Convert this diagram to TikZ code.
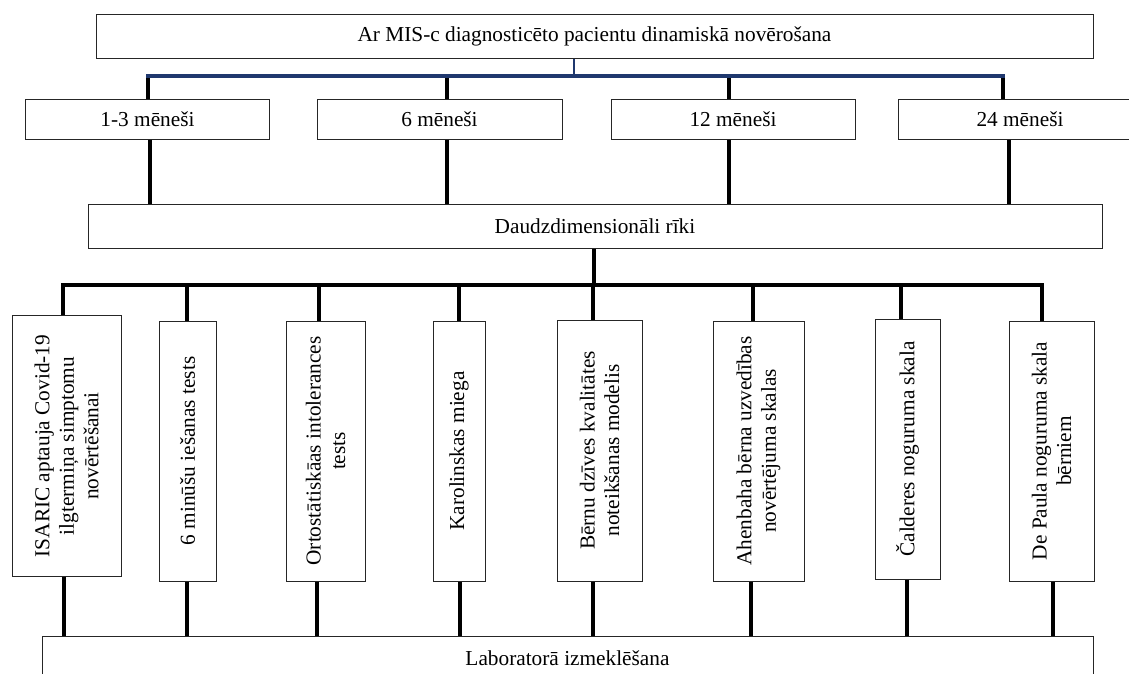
\documentclass[tikz,border=0pt]{standalone}
\usepackage{fontspec}
\setmainfont{Liberation Serif}
\definecolor{navy}{RGB}{31,56,110}
\tikzset{
    box/.style={rectangle,draw=black!85,line width=1pt, inner sep=0, font=\fontsize{21.3}{24.5}\selectfont},
    wide/.style={box, minimum height=44pt},
    month/.style={box, minimum width=244pt, minimum height=40pt},
    tool/.style={box, rotate=90, minimum width=260pt, align=center},
    link/.style={line width=4pt},
    navylink/.style={draw=navy, line width=4pt, line cap=rect}
}

\begin{document}
\begin{tikzpicture}[x=1pt,y=-1pt]
    \useasboundingbox (0,0) rectangle (1129,673);
    \clip (0,0) rectangle (1129,673);

    \node[wide, minimum width=997pt] (top) at (594.5,36) {Ar MIS-c diagnosticēto pacientu dinamiskā novērošana};
    \node[month] (m1) at (147.5,119) {1-3 mēneši};
    \node[month, minimum width=245pt] (m2) at (439.5,119) {6 mēneši};
    \node[month] (m3) at (733,119) {12 mēneši};
    \node[month] (m4) at (1020,119) {24 mēneši};
    \node[wide, minimum width=1014pt] (dd) at (595,226) {Daudzdimensionāli rīki};

    \node[tool, minimum height=109pt, minimum width=261pt] (t1) at (66.5,446) {ISARIC aptauja Covid-19\\ ilgtermiņa simptomu\\ novērtēšanai};
    \node[tool, minimum height=57pt] (t2) at (187.5,451) {6 minūšu iešanas tests};
    \node[tool, minimum height=79pt] (t3) at (325.5,451) {Ortostātiskāas intolerances\\ tests};
    \node[tool, minimum height=52pt] (t4) at (459,451) {Karolinskas miega};
    \node[tool, minimum height=85pt, minimum width=261pt] (t5) at (599.5,450.5) {Bērnu dzīves kvalitātes\\ noteikšanas modelis};
    \node[tool, minimum height=91pt] (t6) at (758.5,451) {Ahenbaha bērna uzvedības\\ novērtējuma skalas};
    \node[tool, minimum height=65pt] (t7) at (907.5,449) {Čalderes noguruma skala};
    \node[tool, minimum height=85pt] (t8) at (1051.5,451) {De Paula noguruma skala\\ bērniem};

    \node[wide, minimum width=1051pt] (lab) at (567.5,658) {Laboratorā izmeklēšana};

    % months
    \coordinate (hub) at (574,76);
    \coordinate (a1) at (148,76);
    \coordinate (a2) at (447,76);
    \coordinate (a3) at (729,76);
    \coordinate (a4) at (1003,76);
    \draw[navy, line width=2.5pt] (top.south -| hub) -- (hub);
    \draw[link] (a1) -- (a1 |- m1.north);
    \draw[link] (a2) -- (a2 |- m2.north);
    \draw[link] (a3) -- (a3 |- m3.north);
    \draw[link] (a4) -- (a4 |- m4.north);
    \draw[navylink] (a1) -- (a4);

    \coordinate (c1) at (150,0);
    \coordinate (c2) at (447,0);
    \coordinate (c3) at (729,0);
    \coordinate (c4) at (1009,0);
    \draw[link] (m1.south -| c1) -- (dd.north -| c1);
    \draw[link] (m2.south -| c2) -- (dd.north -| c2);
    \draw[link] (m3.south -| c3) -- (dd.north -| c3);
    \draw[link] (m4.south -| c4) -- (dd.north -| c4);

    % tools
    \coordinate (hub2) at (594,285);
    \coordinate (d1) at (63,285);
    \coordinate (d2) at (187,285);
    \coordinate (d3) at (319,285);
    \coordinate (d4) at (459,285);
    \coordinate (d5) at (593,285);
    \coordinate (d6) at (753,285);
    \coordinate (d7) at (901,285);
    \coordinate (d8) at (1042,285);
    \draw[link] (dd.south -| hub2) -- (hub2);
    \draw[link, line cap=rect] (d1) -- (d8);
    \draw[link] (d1) -- (d1 |- t1.east);
    \draw[link] (d2) -- (d2 |- t2.east);
    \draw[link] (d3) -- (d3 |- t3.east);
    \draw[link] (d4) -- (d4 |- t4.east);
    \draw[link] (d5) -- (d5 |- t5.east);
    \draw[link] (d6) -- (d6 |- t6.east);
    \draw[link] (d7) -- (d7 |- t7.east);
    \draw[link] (d8) -- (d8 |- t8.east);

    \coordinate (l1) at (64,0);
    \coordinate (l2) at (187,0);
    \coordinate (l3) at (317,0);
    \coordinate (l4) at (460,0);
    \coordinate (l5) at (593,0);
    \coordinate (l6) at (751,0);
    \coordinate (l7) at (907,0);
    \coordinate (l8) at (1053,0);
    \draw[link] (t1.west -| l1) -- (lab.north -| l1);
    \draw[link] (t2.west -| l2) -- (lab.north -| l2);
    \draw[link] (t3.west -| l3) -- (lab.north -| l3);
    \draw[link] (t4.west -| l4) -- (lab.north -| l4);
    \draw[link] (t5.west -| l5) -- (lab.north -| l5);
    \draw[link] (t6.west -| l6) -- (lab.north -| l6);
    \draw[link] (t7.west -| l7) -- (lab.north -| l7);
    \draw[link] (t8.west -| l8) -- (lab.north -| l8);
\end{tikzpicture}
\end{document}
